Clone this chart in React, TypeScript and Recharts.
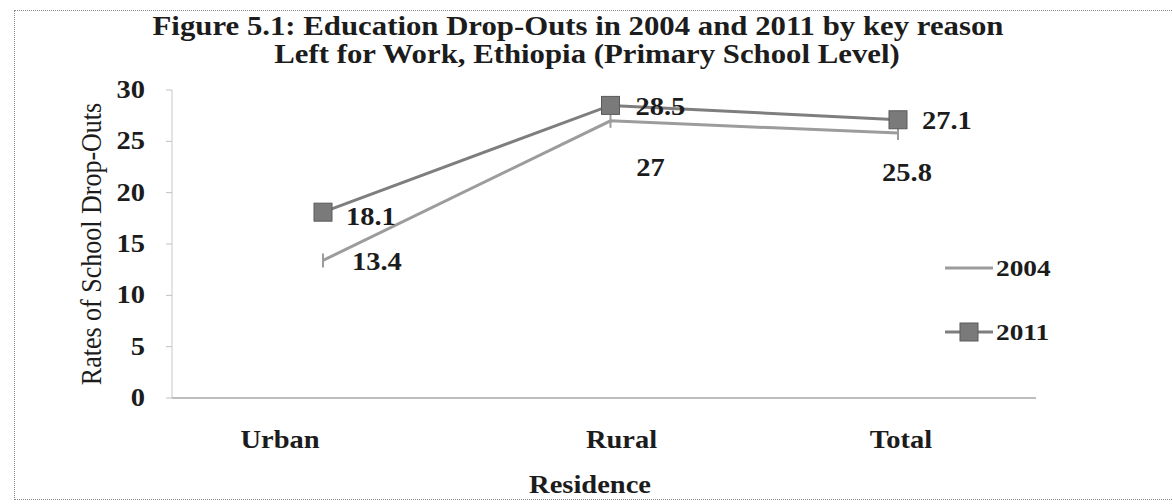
import React from 'react';
import { LineChart, Line, XAxis, YAxis, LabelList } from 'recharts';

// ---- data ----
const categories = ['Urban', 'Rural', 'Total'];
const values2004 = [13.4, 27, 25.8];
const values2011 = [18.1, 28.5, 27.1];
const yTicks = [0, 5, 10, 15, 20, 25, 30];
const seriesNames = ['2004', '2011'];
const titleLines = [
  'Figure 5.1: Education Drop-Outs in 2004 and 2011 by key reason',
  'Left for Work, Ethiopia (Primary School Level)',
];
const xAxisTitle = 'Residence';
const yAxisTitle = 'Rates of School Drop-Outs';

const data = categories.map((c, i) => ({
  residence: c,
  v2004: values2004[i],
  v2011: values2011[i],
}));

// ---- style ----
const FONT = '"Liberation Serif", "Times New Roman", serif';
const SX = 1.14; // horizontal stretch seen in the scanned reference
const TEXT = '#1c1c1c';
const C2004 = '#9c9c9c';
const C2011 = '#7e7e7e';

// label placement (dx, dy from the point, text centre-line)
const off2004 = [
  { dx: 29, dy: 2, anchor: 'start' },
  { dx: 40, dy: 47, anchor: 'middle' },
  { dx: 9, dy: 40, anchor: 'middle' },
];
const off2011 = [
  { dx: 23, dy: 5, anchor: 'start' },
  { dx: 25, dy: 2, anchor: 'start' },
  { dx: 24, dy: 1, anchor: 'start' },
];
const xLabelShift = [-43, 11, 3];

function SText({ x, y, anchor = 'middle', size = 25, weight = 700, children }: any) {
  return (
    <text
      transform={`translate(${x},${y}) scale(${SX},1)`}
      textAnchor={anchor}
      fontFamily={FONT}
      fontSize={size}
      fontWeight={weight}
      fill={TEXT}
    >
      {children}
    </text>
  );
}

const XTick = (props: any) => {
  const { x, y, payload, index } = props;
  return (
    <SText x={x + (xLabelShift[index] || 0)} y={y + 50} size={25}>
      {payload.value}
    </SText>
  );
};

const YTick = (props: any) => {
  const { x, y, payload } = props;
  return (
    <SText x={x} y={y + 8} anchor="end" size={25}>
      {payload.value}
    </SText>
  );
};

const makeLabel = (offs: any[]) => (props: any) => {
  const { x, y, value, index } = props;
  const o = offs[index];
  return (
    <SText x={x + o.dx} y={y + o.dy + 8} anchor={o.anchor} size={25}>
      {value}
    </SText>
  );
};

const SquareDot = (props: any) => {
  const { cx, cy } = props;
  if (cx == null || cy == null) return null;
  return <rect x={cx - 9} y={cy - 9} width={18} height={18} fill="#7a7a7a" stroke="#5a5a5a" strokeWidth={1} />;
};

const DashDot = (props: any) => {
  const { cx, cy } = props;
  if (cx == null || cy == null) return null;
  return <line x1={cx} x2={cx} y1={cy - 7} y2={cy + 7} stroke={C2004} strokeWidth={2} />;
};

export default function App() {
  return (
    <div
      style={{
        position: 'absolute',
        left: 0,
        top: 0,
        width: 1172,
        height: 504,
        background: '#fff',
        overflow: 'hidden',
        fontFamily: FONT,
      }}
    >
      {/* outer frame */}
      <div
        style={{
          position: 'absolute',
          left: 14,
          top: 10,
          width: 1170,
          height: 490,
          border: '1px dotted #8a8a8a',
          boxSizing: 'border-box',
        }}
      />
      {/* title */}
      {titleLines.map((t, i) => (
        <div
          key={i}
          style={{
            position: 'absolute',
            left: i === 0 ? 578 : 587,
            top: i === 0 ? 11 : 39,
            transform: `translateX(-50%) scaleX(${SX})`,
            whiteSpace: 'nowrap',
            fontSize: 27,
            lineHeight: '30px',
            fontWeight: 700,
            color: TEXT,
          }}
        >
          {t}
        </div>
      ))}
      {/* y axis title */}
      <div
        style={{
          position: 'absolute',
          left: 92,
          top: 244,
          transform: `translate(-50%,-50%) rotate(-90deg) scaleY(${SX})`,
          whiteSpace: 'nowrap',
          fontSize: 26,
          lineHeight: '28px',
          fontWeight: 400,
          color: TEXT,
        }}
      >
        {yAxisTitle}
      </div>
      {/* x axis title */}
      <div
        style={{
          position: 'absolute',
          left: 590,
          top: 470,
          transform: `translateX(-50%) scaleX(${SX})`,
          whiteSpace: 'nowrap',
          fontSize: 25,
          lineHeight: '30px',
          fontWeight: 700,
          color: TEXT,
        }}
      >
        {xAxisTitle}
      </div>
      {/* legend */}
      {seriesNames.map((n, i) => (
        <div
          key={n}
          style={{
            position: 'absolute',
            left: 945,
            top: i === 0 ? 254 : 318,
            height: 28,
            display: 'flex',
            alignItems: 'center',
          }}
        >
          <svg width={50} height={28}>
            <line x1={0} x2={48} y1={14} y2={14} stroke={i === 0 ? C2004 : C2011} strokeWidth={3} />
            {i === 1 && <rect x={15} y={5} width={18} height={18} fill="#7a7a7a" stroke="#5a5a5a" />}
          </svg>
          <span
            style={{
              display: 'inline-block',
              fontSize: 24,
              fontWeight: 700,
              color: TEXT,
              transform: `scaleX(${SX})`,
              transformOrigin: 'left center',
              marginLeft: 1,
            }}
          >
            {n}
          </span>
        </div>
      ))}
      <div style={{ position: 'absolute', left: 0, top: 0 }}>
        <LineChart
          width={1172}
          height={504}
          data={data}
          margin={{ top: 90, right: 136, bottom: 56, left: 112 }}
        >
          <XAxis
            dataKey="residence"
            height={50}
            axisLine={{ stroke: '#a8a8a8', strokeWidth: 1.5 }}
            tickLine={false}
            tickSize={0}
            tickMargin={0}
            padding={{ left: 151, right: 138 }}
            tick={<XTick />}
            interval={0}
          />
          <YAxis
            width={60}
            domain={[0, 30]}
            ticks={yTicks}
            axisLine={{ stroke: '#c8c8c8', strokeWidth: 1 }}
            tickLine={{ stroke: '#c0c0c0' }}
            tickSize={6}
            tickMargin={21}
            tick={<YTick />}
            interval={0}
          />
          <Line
            type="linear"
            dataKey="v2004"
            name={seriesNames[0]}
            stroke={C2004}
            strokeWidth={3}
            dot={<DashDot />}
            activeDot={false}
            isAnimationActive={false}
          >
            <LabelList dataKey="v2004" content={makeLabel(off2004)} />
          </Line>
          <Line
            type="linear"
            dataKey="v2011"
            name={seriesNames[1]}
            stroke={C2011}
            strokeWidth={3}
            dot={<SquareDot />}
            activeDot={false}
            isAnimationActive={false}
          >
            <LabelList dataKey="v2011" content={makeLabel(off2011)} />
          </Line>
        </LineChart>
      </div>
    </div>
  );
}
